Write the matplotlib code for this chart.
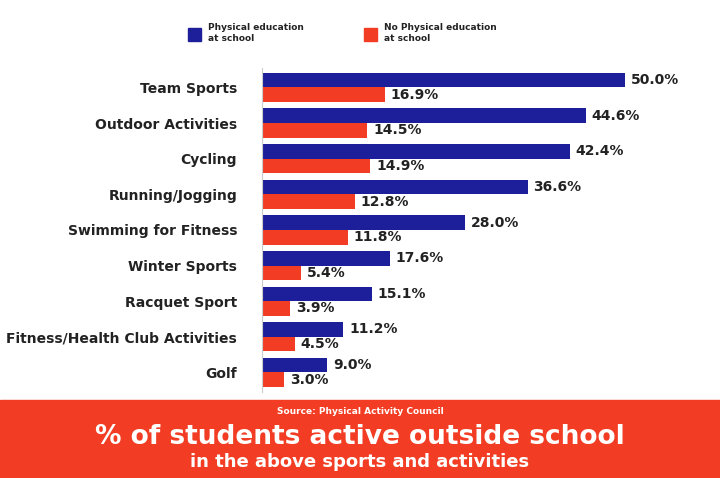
import numpy as np
import matplotlib.pyplot as plt
import matplotlib.patches as patches

categories = ['Team Sports', 'Outdoor Activities', 'Cycling', 'Running/Jogging',
              'Swimming for Fitness', 'Winter Sports', 'Racquet Sport',
              'Fitness/Health Club Activities', 'Golf']
pe_school = [50.0, 44.6, 42.4, 36.6, 28.0, 17.6, 15.1, 11.2, 9.0]
no_pe_school = [16.9, 14.5, 14.9, 12.8, 11.8, 5.4, 3.9, 4.5, 3.0]

blue = '#1c1f99'
red = '#f23d24'

fig = plt.figure(figsize=(7.2, 4.78), dpi=100)
ax = fig.add_axes([0.364, 0.18, 0.605, 0.678])
y = np.arange(len(categories))
h = 0.41
ax.barh(y - h / 2, pe_school, height=h, color=blue)
ax.barh(y + h / 2, no_pe_school, height=h, color=red)
for yi, v in zip(y, pe_school):
    ax.text(v + 0.8, yi - h / 2, f'{v:.1f}%', va='center', ha='left',
            fontsize=10, fontweight='bold', color='#222222')
for yi, v in zip(y, no_pe_school):
    ax.text(v + 0.8, yi + h / 2, f'{v:.1f}%', va='center', ha='left',
            fontsize=10, fontweight='bold', color='#222222')
ax.set_xlim(0, 60)
ax.set_ylim(8.55, -0.55)
ax.set_yticks(y)
ax.set_yticklabels(categories, fontsize=10, fontweight='bold', color='#222222')
ax.tick_params(axis='y', length=0, pad=18)
ax.set_xticks([])
for s in ['top', 'right', 'bottom']:
    ax.spines[s].set_visible(False)
ax.spines['left'].set_color('#cccccc')

# legend
fig.patches.append(patches.Rectangle((188 / 720, 1 - 41 / 478), 13 / 720, 13 / 478,
                                     transform=fig.transFigure, color=blue))
fig.text(208 / 720, 1 - 33 / 478, 'Physical education\nat school', fontsize=6.5,
         fontweight='bold', va='center', ha='left', color='#222222')
fig.patches.append(patches.Rectangle((364 / 720, 1 - 41 / 478), 13 / 720, 13 / 478,
                                     transform=fig.transFigure, color=red))
fig.text(384 / 720, 1 - 33 / 478, 'No Physical education\nat school', fontsize=6.5,
         fontweight='bold', va='center', ha='left', color='#222222')

# banner
fig.patches.append(patches.Rectangle((0, 0), 1, 78 / 478,
                                     transform=fig.transFigure, color=red))
fig.text(0.5, 1 - 411 / 478, 'Source: Physical Activity Council', fontsize=6.5,
         fontweight='bold', color='white', ha='center', va='center')
fig.text(0.5, 1 - 437 / 478, '% of students active outside school', fontsize=19,
         fontweight='bold', color='white', ha='center', va='center')
fig.text(0.5, 1 - 462 / 478, 'in the above sports and activities', fontsize=13,
         fontweight='bold', color='white', ha='center', va='center')

fig.savefig('out.png', dpi=100)
